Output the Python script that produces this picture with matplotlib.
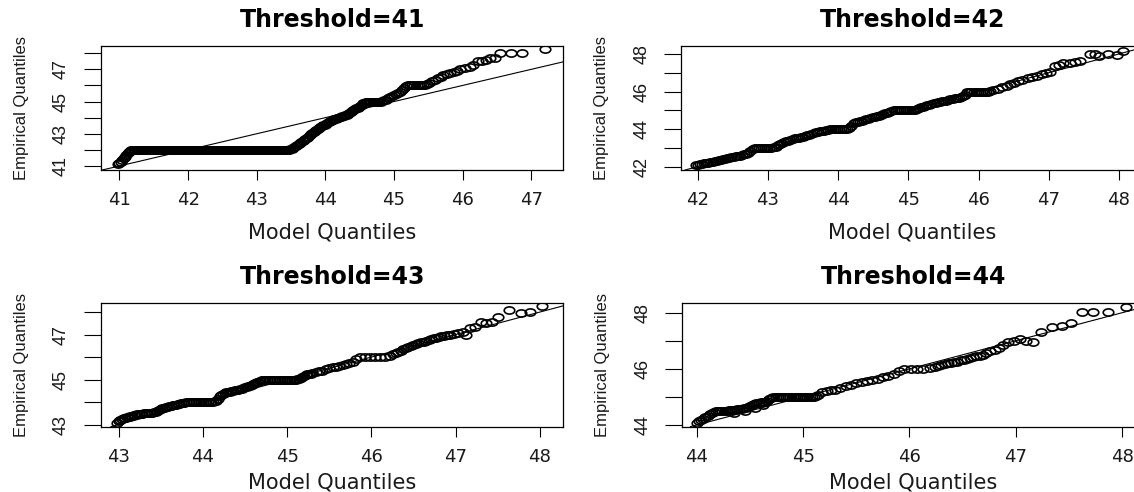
import matplotlib
matplotlib.use("Agg")
import matplotlib.pyplot as plt
from matplotlib.path import Path
from matplotlib.transforms import Affine2D

# ---------------- data ----------------
thresholds = [41, 42, 43, 44]

p1_model = [40.98, 41.00, 41.02, 41.04, 41.06, 41.08, 41.10, 41.12, 41.14, 41.16,
            41.17, 41.19, 41.21, 41.23, 41.25, 41.27, 41.29, 41.31, 41.33, 41.35,
            41.37, 41.39, 41.41, 41.43, 41.45, 41.47, 41.49, 41.51, 41.53, 41.55,
            41.57, 41.59, 41.61, 41.63, 41.65, 41.67, 41.69, 41.71, 41.73, 41.75,
            41.77, 41.79, 41.81, 41.83, 41.85, 41.87, 41.89, 41.91, 41.93, 41.95,
            41.97, 41.99, 42.01, 42.03, 42.05, 42.07, 42.09, 42.11, 42.13, 42.15,
            42.17, 42.19, 42.21, 42.23, 42.25, 42.27, 42.29, 42.31, 42.33, 42.35,
            42.37, 42.39, 42.41, 42.43, 42.45, 42.47, 42.49, 42.51, 42.53, 42.55,
            42.57, 42.59, 42.61, 42.63, 42.65, 42.67, 42.69, 42.71, 42.73, 42.75,
            42.77, 42.79, 42.81, 42.83, 42.85, 42.87, 42.89, 42.91, 42.93, 42.95,
            42.97, 42.99, 43.01, 43.03, 43.05, 43.07, 43.09, 43.11, 43.13, 43.15,
            43.17, 43.19, 43.21, 43.23, 43.25, 43.27, 43.29, 43.31, 43.33, 43.35,
            43.37, 43.39, 43.41, 43.43, 43.45,
            43.47, 43.49, 43.51, 43.53, 43.55, 43.57, 43.59, 43.61, 43.63, 43.65,
            43.67, 43.69, 43.71, 43.73, 43.75, 43.77, 43.79, 43.81, 43.83, 43.85,
            43.87, 43.89, 43.91, 43.93, 43.95, 43.97, 43.99, 44.01, 44.03, 44.05,
            44.07, 44.09, 44.11, 44.13, 44.15, 44.17, 44.19, 44.21, 44.23, 44.25,
            44.27, 44.29, 44.31, 44.33, 44.35, 44.37, 44.39, 44.41, 44.43, 44.45,
            44.47, 44.49, 44.51, 44.53, 44.55, 44.57, 44.59, 44.61, 44.63, 44.65,
            44.67, 44.69, 44.71, 44.73, 44.75, 44.77, 44.79, 44.81, 44.83, 44.85,
            44.88, 44.91, 44.94, 44.97, 45.00, 45.03, 45.06, 45.09, 45.12, 45.15,
            45.18, 45.21, 45.24, 45.27, 45.30, 45.33, 45.36, 45.39, 45.42, 45.45,
            45.48, 45.51,
            45.55, 45.60, 45.64, 45.68, 45.72, 45.77, 45.82, 45.87, 45.92, 45.97,
            46.03, 46.11, 46.16, 46.23, 46.28, 46.34, 46.40, 46.47, 46.55, 46.70,
            46.87, 47.20]
p1_emp = [41.10, 41.17, 41.25, 41.40, 41.50, 41.58, 41.70, 41.80, 41.88, 41.95,
          42.00, 42.00, 42.00, 42.00, 42.00, 42.00, 42.00, 42.00, 42.00, 42.00,
          42.00, 42.00, 42.00, 42.00, 42.00, 42.00, 42.00, 42.00, 42.00, 42.00,
          42.00, 42.00, 42.00, 42.00, 42.00, 42.00, 42.00, 42.00, 42.00, 42.00,
          42.00, 42.00, 42.00, 42.00, 42.00, 42.00, 42.00, 42.00, 42.00, 42.00,
          42.00, 42.00, 42.00, 42.00, 42.00, 42.00, 42.00, 42.00, 42.00, 42.00,
          42.00, 42.00, 42.00, 42.00, 42.00, 42.00, 42.00, 42.00, 42.00, 42.00,
          42.00, 42.00, 42.00, 42.00, 42.00, 42.00, 42.00, 42.00, 42.00, 42.00,
          42.00, 42.00, 42.00, 42.00, 42.00, 42.00, 42.00, 42.00, 42.00, 42.00,
          42.00, 42.00, 42.00, 42.00, 42.00, 42.00, 42.00, 42.00, 42.00, 42.00,
          42.00, 42.00, 42.00, 42.00, 42.00, 42.00, 42.00, 42.00, 42.00, 42.00,
          42.00, 42.00, 42.00, 42.00, 42.00, 42.00, 42.00, 42.00, 42.00, 42.00,
          42.00, 42.00, 42.00, 42.00, 42.00,
          42.02, 42.04, 42.07, 42.12, 42.17, 42.22, 42.28, 42.36, 42.44, 42.51,
          42.57, 42.63, 42.69, 42.76, 42.83, 42.90, 42.96, 43.02, 43.08, 43.15,
          43.21, 43.27, 43.33, 43.40, 43.46, 43.52, 43.57, 43.62, 43.67, 43.72,
          43.77, 43.82, 43.86, 43.89, 43.92, 43.96, 44.00, 44.03, 44.06, 44.09,
          44.11, 44.14, 44.17, 44.22, 44.28, 44.35, 44.41, 44.47, 44.52, 44.57,
          44.62, 44.67, 44.74, 44.81, 44.88, 44.93, 44.97, 45.00, 45.00, 45.00,
          45.00, 45.00, 45.00, 45.00, 45.00, 45.00, 45.00, 45.00, 45.02, 45.07,
          45.12, 45.20, 45.28, 45.34, 45.40, 45.47, 45.55, 45.62, 45.72, 45.85,
          45.96, 46.00, 46.00, 46.00, 46.00, 46.00, 46.00, 46.00, 46.00, 46.02,
          46.08, 46.15,
          46.25, 46.35, 46.45, 46.55, 46.62, 46.70, 46.78, 46.86, 46.92, 47.05,
          47.10, 47.17, 47.30, 47.55, 47.50, 47.60, 47.68, 47.72, 48.00, 48.00,
          48.00, 48.25]

p2_model = [41.97, 42.00, 42.03, 42.06, 42.09, 42.12, 42.15, 42.18, 42.21, 42.24,
            42.27, 42.30, 42.33, 42.36, 42.39, 42.42, 42.45, 42.48, 42.51, 42.54,
            42.57, 42.60, 42.63, 42.66, 42.69, 42.72, 42.75, 42.78, 42.81, 42.84,
            42.87, 42.90, 42.93, 42.96, 42.99, 43.02, 43.05, 43.08, 43.11, 43.14,
            43.17, 43.20, 43.23, 43.26, 43.29, 43.32, 43.35, 43.38, 43.41, 43.44,
            43.47, 43.50, 43.53, 43.56, 43.59, 43.62, 43.65, 43.68, 43.71, 43.74,
            43.77, 43.80, 43.83, 43.86, 43.89, 43.92, 43.95, 43.98, 44.01, 44.04,
            44.07, 44.10, 44.13, 44.16, 44.19, 44.22, 44.25, 44.28, 44.31, 44.34,
            44.37, 44.40, 44.43, 44.46, 44.49, 44.52, 44.55, 44.58, 44.61, 44.64,
            44.67, 44.70, 44.73, 44.76, 44.79, 44.82, 44.85, 44.88, 44.91, 44.94,
            44.97, 45.00, 45.03, 45.06, 45.09, 45.12, 45.15, 45.18, 45.21, 45.24,
            45.27, 45.30, 45.33, 45.36, 45.39, 45.42, 45.45, 45.48, 45.51, 45.54,
            45.57, 45.60, 45.63, 45.66, 45.69, 45.72, 45.75, 45.78, 45.81, 45.84,
            45.87, 45.90, 45.93, 45.96, 45.99, 46.02, 46.05, 46.08, 46.11, 46.14,
            46.17, 46.20,
            46.28, 46.33, 46.40, 46.45, 46.50, 46.56, 46.62, 46.70, 46.76, 46.84,
            46.90, 46.96, 47.02, 47.09, 47.15, 47.20, 47.30, 47.38, 47.45, 47.59,
            47.66, 47.72, 47.85, 47.98, 48.06]
p2_emp = [42.07, 42.10, 42.12, 42.15, 42.17, 42.19, 42.21, 42.22, 42.24, 42.28,
          42.31, 42.33, 42.37, 42.39, 42.41, 42.45, 42.47, 42.50, 42.53, 42.55,
          42.57, 42.59, 42.62, 42.65, 42.69, 42.75, 42.84, 42.95, 43.00, 43.00,
          43.00, 43.00, 43.00, 43.00, 43.00, 43.00, 43.00, 43.03, 43.07, 43.15,
          43.22, 43.28, 43.31, 43.35, 43.39, 43.43, 43.46, 43.50, 43.52, 43.54,
          43.56, 43.60, 43.62, 43.66, 43.69, 43.75, 43.79, 43.83, 43.86, 43.88,
          43.90, 43.91, 43.93, 43.95, 44.00, 44.00, 44.00, 44.00, 44.00, 44.00,
          44.00, 44.00, 44.02, 44.06, 44.15, 44.30, 44.37, 44.40, 44.43, 44.45,
          44.49, 44.53, 44.56, 44.60, 44.62, 44.65, 44.69, 44.72, 44.77, 44.82,
          44.86, 44.88, 44.91, 44.96, 45.00, 45.00, 45.00, 45.00, 45.00, 45.00,
          45.00, 45.00, 45.00, 45.00, 45.01, 45.05, 45.11, 45.15, 45.19, 45.23,
          45.26, 45.30, 45.34, 45.37, 45.40, 45.42, 45.45, 45.47, 45.49, 45.52,
          45.54, 45.58, 45.61, 45.63, 45.65, 45.68, 45.71, 45.75, 45.82, 45.95,
          46.00, 46.00, 46.00, 46.00, 46.00, 46.00, 46.00, 46.00, 46.00, 46.00,
          46.02, 46.07,
          46.15, 46.22, 46.30, 46.42, 46.45, 46.55, 46.60, 46.70, 46.78, 46.85,
          46.95, 47.00, 47.02, 47.35, 47.40, 47.50, 47.50, 47.55, 47.60, 48.00,
          48.00, 47.90, 48.00, 47.95, 48.15]

p3_model = [42.98, 43.00, 43.02, 43.04, 43.06, 43.08, 43.10, 43.12, 43.14, 43.16,
            43.18, 43.20, 43.22, 43.24, 43.26, 43.28, 43.30, 43.32, 43.34, 43.36,
            43.38, 43.40, 43.42, 43.44, 43.46, 43.48, 43.50, 43.52, 43.54, 43.56,
            43.58, 43.60, 43.62, 43.64, 43.66, 43.68, 43.70, 43.72, 43.74, 43.76,
            43.78, 43.80, 43.82, 43.84, 43.86, 43.88, 43.90, 43.92, 43.94, 43.96,
            43.98, 44.00, 44.02, 44.04, 44.06, 44.08, 44.10, 44.12, 44.14, 44.16,
            44.18, 44.20, 44.22, 44.24, 44.26, 44.28, 44.30, 44.32, 44.34, 44.36,
            44.38, 44.40, 44.42, 44.44, 44.46, 44.48, 44.50, 44.52, 44.54, 44.56,
            44.58, 44.60, 44.62, 44.64, 44.66, 44.68, 44.70, 44.72, 44.74, 44.76,
            44.78, 44.80, 44.82, 44.84, 44.86, 44.88, 44.90, 44.92, 44.94, 44.96,
            44.98, 45.00, 45.02, 45.04, 45.06, 45.08, 45.10, 45.12, 45.14, 45.16,
            45.18, 45.20, 45.22, 45.24, 45.26, 45.28, 45.30,
            45.34, 45.38, 45.42, 45.46, 45.50, 45.54, 45.58, 45.62, 45.66, 45.70,
            45.74, 45.78, 45.82, 45.86, 45.92, 45.98, 46.04, 46.10, 46.16, 46.22,
            46.26, 46.29, 46.32, 46.35, 46.38, 46.41, 46.44, 46.47, 46.50, 46.53,
            46.56, 46.59, 46.62, 46.65, 46.68, 46.71, 46.74, 46.77, 46.80, 46.83,
            46.86, 46.90, 46.94, 46.98, 47.03, 47.09, 47.12, 47.17, 47.23, 47.30,
            47.36, 47.43, 47.50, 47.64, 47.78, 47.88, 48.03]
p3_emp = [43.08, 43.14, 43.19, 43.23, 43.28, 43.31, 43.33, 43.35, 43.37, 43.40,
          43.42, 43.44, 43.45, 43.47, 43.48, 43.49, 43.50, 43.50, 43.51, 43.51,
          43.52, 43.53, 43.55, 43.58, 43.62, 43.66, 43.69, 43.72, 43.75, 43.77,
          43.79, 43.82, 43.84, 43.86, 43.88, 43.89, 43.91, 43.92, 43.94, 43.96,
          43.97, 43.99, 44.00, 44.00, 44.00, 44.00, 44.00, 44.00, 44.00, 44.00,
          44.00, 44.00, 44.00, 44.00, 44.00, 44.00, 44.00, 44.01, 44.03, 44.07,
          44.14, 44.25, 44.33, 44.38, 44.42, 44.44, 44.46, 44.47, 44.49, 44.51,
          44.52, 44.54, 44.55, 44.58, 44.60, 44.63, 44.65, 44.67, 44.70, 44.73,
          44.77, 44.81, 44.85, 44.88, 44.91, 44.95, 44.98, 45.00, 45.00, 45.00,
          45.00, 45.00, 45.00, 45.00, 45.00, 45.00, 45.00, 45.00, 45.00, 45.00,
          45.00, 45.00, 45.00, 45.00, 45.00, 45.00, 45.00, 45.01, 45.03, 45.08,
          45.13, 45.18, 45.21, 45.23, 45.25, 45.27, 45.28,
          45.32, 45.36, 45.40, 45.45, 45.50, 45.54, 45.57, 45.60, 45.64, 45.68,
          45.74, 45.80, 45.90, 46.00, 46.00, 46.00, 46.00, 46.00, 46.00, 46.05,
          46.15, 46.20, 46.24, 46.29, 46.35, 46.40, 46.45, 46.49, 46.54, 46.58,
          46.62, 46.65, 46.68, 46.71, 46.76, 46.80, 46.83, 46.86, 46.89, 46.92,
          46.95, 46.98, 47.00, 47.03, 47.05, 47.10, 46.98, 47.30, 47.35, 47.58,
          47.50, 47.55, 47.78, 48.10, 47.95, 48.00, 48.25]

p4_model = [44.00, 44.02, 44.04, 44.06, 44.08, 44.10, 44.12, 44.14, 44.16, 44.18,
            44.20, 44.22, 44.24, 44.26, 44.28, 44.30, 44.32, 44.34, 44.36, 44.38,
            44.40, 44.42, 44.44, 44.46, 44.48, 44.50, 44.52, 44.54, 44.56, 44.58,
            44.60, 44.62, 44.64, 44.66, 44.68, 44.70, 44.72, 44.74, 44.76, 44.78,
            44.80, 44.82, 44.84, 44.86, 44.88, 44.90, 44.92, 44.94, 44.96, 44.98,
            45.00, 45.02, 45.04, 45.06, 45.08, 45.10, 45.12, 45.14,
            45.18, 45.22, 45.26, 45.30, 45.35, 45.40, 45.45, 45.50, 45.55, 45.60,
            45.65, 45.70, 45.75, 45.80, 45.85, 45.90, 45.95, 46.01, 46.07, 46.13,
            46.19, 46.24, 46.27, 46.30, 46.33, 46.36, 46.39, 46.42, 46.45, 46.48,
            46.51, 46.54, 46.57, 46.60, 46.63, 46.66, 46.69, 46.72, 46.76, 46.80,
            46.84, 46.88, 46.93, 46.98, 47.04, 47.10, 47.16, 47.24, 47.34, 47.43,
            47.52, 47.62, 47.73, 47.87, 48.04, 44.35, 44.45, 44.55, 44.62]
p4_emp = [44.08, 44.13, 44.18, 44.22, 44.27, 44.33, 44.40, 44.44, 44.46, 44.48,
          44.48, 44.48, 44.49, 44.50, 44.51, 44.52, 44.53, 44.54, 44.55, 44.56,
          44.57, 44.58, 44.59, 44.62, 44.65, 44.68, 44.72, 44.75, 44.77, 44.79,
          44.80, 44.81, 44.83, 44.85, 44.91, 44.97, 45.00, 45.00, 45.00, 45.00,
          45.00, 45.00, 45.00, 45.00, 45.00, 45.00, 45.00, 45.00, 45.00, 45.00,
          45.00, 45.00, 45.00, 45.00, 45.00, 45.00, 45.02, 45.06,
          45.18, 45.22, 45.25, 45.26, 45.30, 45.38, 45.42, 45.48, 45.52, 45.56,
          45.60, 45.64, 45.70, 45.75, 45.82, 45.92, 46.00, 46.00, 46.00, 46.00,
          46.02, 46.08, 46.11, 46.15, 46.18, 46.20, 46.22, 46.24, 46.26, 46.30,
          46.33, 46.36, 46.39, 46.42, 46.44, 46.47, 46.51, 46.58, 46.62, 46.68,
          46.76, 46.85, 46.94, 47.00, 47.06, 47.00, 46.97, 47.33, 47.50, 47.53,
          47.62, 48.01, 48.01, 48.01, 48.19, 44.42, 44.50, 44.62, 44.72]

model_q = [p1_model, p2_model, p3_model, p4_model]
emp_q = [p1_emp, p2_emp, p3_emp, p4_emp]

x_ticks = [[41, 42, 43, 44, 45, 46, 47],
           [42, 43, 44, 45, 46, 47, 48],
           [43, 44, 45, 46, 47, 48],
           [44, 45, 46, 47, 48]]
y_ticks = [[41, 42, 43, 44, 45, 46, 47, 48],
           [42, 43, 44, 45, 46, 47, 48],
           [43, 44, 45, 46, 47, 48],
           [44, 45, 46, 47, 48]]
y_labelled = [[41, 43, 45, 47],
              [42, 44, 46, 48],
              [43, 45, 47],
              [44, 46, 48]]
x_limits = [(40.73, 47.47), (41.76, 48.35), (42.79, 48.28), (43.86, 48.21)]
y_limits = [(40.75, 48.47), (41.82, 48.44), (42.91, 48.42), (43.94, 48.36)]

ref_intercept = 0.0
ref_slope = 1.0

title_fmt = "Threshold={}"
x_title = "Model Quantiles"
y_title = "Empirical Quantiles"

# ---------------- layout / style ----------------
positions = [(0.0890, 0.6545, 0.4078, 0.2526),
             (0.6005, 0.6545, 0.4078, 0.2526),
             (0.0890, 0.1329, 0.4078, 0.2520),
             (0.6014, 0.1329, 0.4078, 0.2520)]
xlabel_offset = [-0.507, -0.507, -0.45, -0.45]

ellipse = Path.unit_circle().transformed(Affine2D().scale(1.0, 0.68))

fig = plt.figure(figsize=(11.34, 4.92), dpi=100)
fig.patch.set_facecolor("white")

for i in range(4):
    ax = fig.add_axes(positions[i])
    ax.plot(model_q[i], emp_q[i], linestyle="none", marker=ellipse,
            markersize=7.6, markerfacecolor="none", markeredgecolor="black",
            markeredgewidth=1.2)
    ax.axline((0.0, ref_intercept), slope=ref_slope, color="black", lw=0.8)
    ax.set_xlim(*x_limits[i])
    ax.set_ylim(*y_limits[i])

    ax.set_xticks(x_ticks[i])
    ax.set_xticklabels([str(v) for v in x_ticks[i]],
                       fontfamily="DejaVu Sans", fontsize=13, color="#1a1a1a")
    ax.set_yticks(y_ticks[i])
    ax.set_yticklabels([str(v) if v in y_labelled[i] else "" for v in y_ticks[i]],
                       fontfamily="Liberation Sans", fontsize=13,
                       rotation=90, va="center", ha="right", color="#1a1a1a")
    ax.tick_params(axis="x", length=7.2, width=0.8, pad=8, direction="out")
    ax.tick_params(axis="y", length=12.2, width=0.8, pad=10, direction="out")

    for sp in ax.spines.values():
        sp.set_linewidth(0.9)
        sp.set_color("black")

    ax.set_title(title_fmt.format(thresholds[i]), fontfamily="DejaVu Sans",
                 fontweight="bold", fontsize=17, y=1.205, va="center", pad=0)
    ax.set_xlabel(x_title, fontfamily="DejaVu Sans", fontsize=15,
                  va="center", color="#1a1a1a")
    ax.xaxis.set_label_coords(0.5, xlabel_offset[i])
    ax.set_ylabel(y_title, fontfamily="Liberation Sans", fontsize=12,
                  va="center", ha="center", color="#1a1a1a")
    ax.yaxis.set_label_coords(-0.171, 0.5)

fig.savefig("out.png", dpi=100, facecolor="white")
